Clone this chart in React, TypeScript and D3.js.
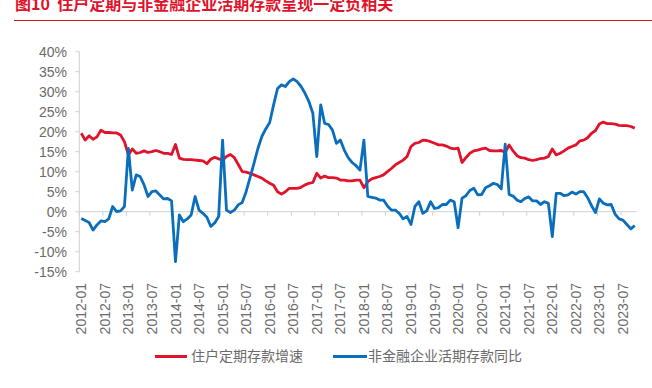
import React from "react";
import * as d3 from "d3";

const startYear = 2012;
const monthCount = 142; // 2012-01 .. 2023-10
const months: string[] = Array.from({ length: monthCount }, (_, i) => {
  const y = startYear + Math.floor(i / 12);
  const m = (i % 12) + 1;
  return `${y}-${m < 10 ? "0" + m : m}`;
});

const householdTime: number[] = [
  19.6, 17.9, 19.0, 18.1, 18.7, 20.4, 19.8, 19.8, 19.7, 19.7, 19.2, 17.5,
  14.2, 15.7, 14.6, 14.8, 15.2, 14.8, 15.0, 15.3, 15.0, 14.6, 14.6, 14.3,
  16.8, 13.4, 13.1, 13.0, 13.0, 12.9, 12.8, 12.7, 12.0, 13.1, 13.6, 13.2,
  12.9, 13.8, 14.3, 13.5, 11.8, 10.0, 9.9, 9.6, 9.2, 8.8, 8.4, 7.7,
  7.1, 6.6, 5.0, 4.4, 5.0, 5.85, 5.85, 5.85, 6.1, 6.7, 7.1, 7.3,
  9.6, 8.4, 8.9, 8.5, 8.5, 8.4, 7.9, 7.9, 7.7, 7.7, 7.9, 7.9,
  6.0, 7.5, 8.2, 8.5, 8.8, 9.2, 10.0, 10.8, 11.7, 12.3, 12.9, 13.8,
  16.3, 17.1, 17.3, 17.9, 17.8, 17.5, 17.1, 16.7, 16.7, 16.4, 15.9, 15.7,
  15.9, 12.3, 13.5, 14.6, 15.2, 15.4, 15.7, 15.9, 15.3, 15.2, 15.2, 15.3,
  14.8, 16.7, 15.2, 14.0, 13.5, 13.4, 13.0, 12.8, 13.0, 13.3, 13.4, 13.8,
  15.7, 14.2, 14.6, 15.2, 15.9, 16.3, 16.7, 17.7, 17.9, 18.5, 19.6, 20.3,
  21.9, 22.4, 22.0, 22.0, 21.9, 21.6, 21.5, 21.5, 21.3, 20.9,
];

const corporateDemand: number[] = [
  -1.7, -2.2, -2.7, -4.6, -3.3, -2.3, -2.5, -1.8, 1.3, 0.0, 0.2, 1.3,
  15.8, 5.4, 9.2, 8.8, 6.7, 3.8, 5.0, 5.2, 4.2, 3.2, 3.3, 2.7,
  -12.5, -0.8, -2.5, -1.8, -0.8, 3.8, 0.4, -0.4, -1.4, -3.7, -2.8, -1.2,
  17.9, 0.4, -0.2, 0.4, 1.7, 2.3, 5.0, 8.5, 12.1, 15.8, 18.8, 20.7,
  22.3, 26.7, 30.8, 31.7, 31.3, 32.5, 33.2, 32.5, 31.3, 29.6, 27.5, 24.6,
  13.8, 26.7, 22.1, 21.8, 20.4, 17.1, 17.9, 15.4, 13.5, 12.3, 11.5, 10.4,
  17.9, 3.8, 3.6, 3.4, 2.9, 2.9, 1.4, 0.4, 0.4, -0.4, -1.8, -1.2,
  -3.2, 1.3, 2.5, -0.4, 0.2, 2.5, 0.8, 1.0, 1.8, 1.8, 2.9, 2.5,
  -4.0, 3.4, 4.0, 5.3, 5.85, 4.2, 4.3, 6.0, 6.5, 7.1, 6.8, 5.7,
  16.9, 4.3, 3.9, 2.9, 2.5, 3.3, 3.7, 2.7, 2.7, 1.8, 2.5, 2.1,
  -6.2, 4.6, 4.6, 4.0, 4.2, 4.9, 4.4, 5.0, 5.0, 3.5, 1.5, -0.2,
  3.2, 2.1, 1.7, 1.8, -0.6, -1.8, -2.1, -3.2, -4.3, -3.5,
];

const yTicks: number[] = [-15, -10, -5, 0, 5, 10, 15, 20, 25, 30, 35, 40];
const seriesNames: string[] = ["住户定期存款增速", "非金融企业活期存款同比"];
const titleText = "图10  住户定期与非金融企业活期存款呈现一定负相关";

const RED = "#e0132b";
const BLUE = "#0a6ebd";
const AXIS = "#d0d0d0";
const LABEL = "#6b6b6b";

export default function App() {
  const x = d3
    .scaleBand<number>()
    .domain(d3.range(monthCount))
    .range([79.3, 636.7])
    .padding(0);
  const bw = x.bandwidth();
  const cx = (i: number) => (x(i) as number) + bw / 2;
  const y = d3.scaleLinear().domain([-15, 40]).range([271.7, 51.7]);

  const line = d3
    .line<number>()
    .x((_, i) => cx(i))
    .y((d) => y(d))
    .curve(d3.curveLinear);

  const labelIdx = d3.range(0, monthCount, 6).filter((i) => i <= 138);
  const tickIdx = d3.range(0, monthCount + 1, 6);
  const latin = "'Liberation Sans', Arial, sans-serif";
  const cjk = "'Noto Sans CJK SC', sans-serif";

  return (
    <svg
      width={652}
      height={388}
      style={{ position: "absolute", left: 0, top: 0, background: "#fff" }}
    >
      <text
        x={15}
        y={9.5}
        fill={RED}
        fontFamily={cjk}
        fontWeight={700}
        fontSize={16}
        style={{ whiteSpace: "pre" }}
      >
        {titleText}
      </text>
      <line x1={14} x2={652} y1={20.5} y2={20.5} stroke={RED} strokeWidth={1} />

      {/* y axis */}
      <line x1={79.3} x2={79.3} y1={y(40)} y2={y(-15)} stroke={AXIS} strokeWidth={1} />
      {yTicks.map((t) => (
        <g key={t}>
          <line x1={75.5} x2={79.3} y1={y(t)} y2={y(t)} stroke={AXIS} strokeWidth={1} />
          <text
            x={67}
            y={y(t)}
            dy="0.35em"
            textAnchor="end"
            fill={LABEL}
            fontFamily={latin}
            fontSize={14}
          >
            {t}%
          </text>
        </g>
      ))}

      {/* x axis */}
      <line x1={79.3} x2={636.7} y1={y(0)} y2={y(0)} stroke={AXIS} strokeWidth={1} />
      {tickIdx.map((i) => {
        const xx = i < monthCount ? (x(i) as number) : 636.7;
        return (
          <line key={i} x1={xx} x2={xx} y1={y(0)} y2={y(0) + 4} stroke={AXIS} strokeWidth={1} />
        );
      })}
      {labelIdx.map((i) => (
        <text
          key={i}
          transform={`translate(${cx(i)},283) rotate(-90)`}
          dy="0.36em"
          textAnchor="end"
          fill={LABEL}
          fontFamily={latin}
          fontSize={14}
        >
          {months[i]}
        </text>
      ))}

      <path
        d={line(householdTime) || ""}
        fill="none"
        stroke={RED}
        strokeWidth={2.8}
        strokeLinejoin="round"
      />
      <path
        d={line(corporateDemand) || ""}
        fill="none"
        stroke={BLUE}
        strokeWidth={2.8}
        strokeLinejoin="round"
      />

      {/* legend */}
      <line x1={155} x2={187} y1={356.5} y2={356.5} stroke={RED} strokeWidth={3} />
      <text x={191} y={356.5} dy="0.35em" fill={LABEL} fontFamily={cjk} fontSize={14}>
        {seriesNames[0]}
      </text>
      <line x1={333} x2={367} y1={356.5} y2={356.5} stroke={BLUE} strokeWidth={3} />
      <text x={368} y={356.5} dy="0.35em" fill={LABEL} fontFamily={cjk} fontSize={14}>
        {seriesNames[1]}
      </text>
    </svg>
  );
}
